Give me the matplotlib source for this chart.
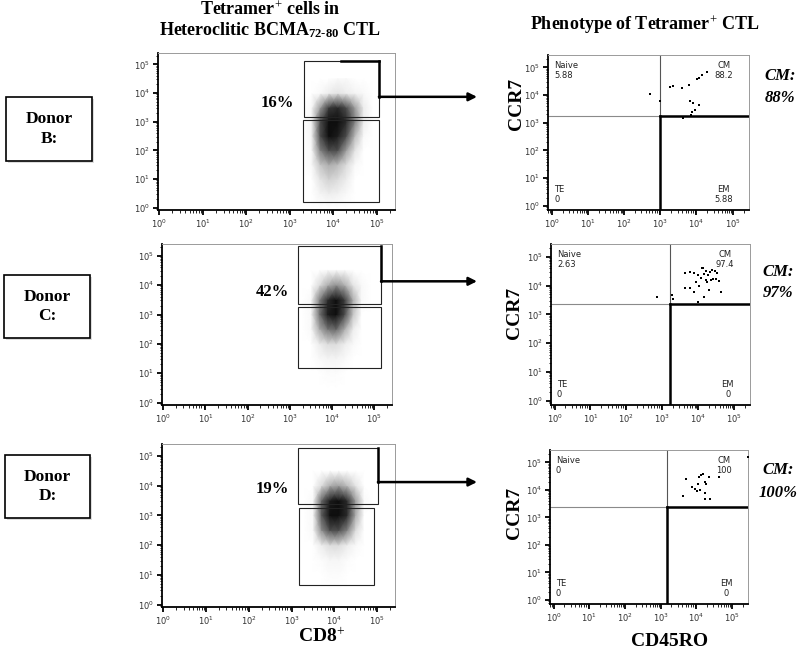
import numpy as np
import matplotlib
matplotlib.use('Agg')
import matplotlib.pyplot as plt
from matplotlib.patches import Rectangle
from matplotlib.ticker import LogLocator, NullFormatter

plt.rcParams['mathtext.fontset'] = 'custom'
plt.rcParams['mathtext.rm'] = 'Liberation Serif'
plt.rcParams['mathtext.bf'] = 'Liberation Serif:bold'
plt.rcParams['mathtext.it'] = 'Liberation Serif:italic'

# ---- data (all positions in log10 decades) ----
donors = ['B', 'C', 'D']
tet_pct = ['16%', '42%', '19%']
cm_pct = ['88%', '97%', '100%']
# (Naive, CM, TE, EM)
quad_vals = [('5.88', '88.2', '0', '5.88'),
             ('2.63', '97.4', '0', '0'),
             ('0', '100', '0', '0')]

# density of the tetramer/CD8 cloud, read by eye (rows = y nodes, cols = x nodes)
dens_x = [3.3, 3.5, 3.7, 3.9, 4.1, 4.3, 4.5, 4.7, 4.9]
dens_y = [0.0, 0.5, 1.0, 1.5, 2.0, 2.5, 3.0, 3.5, 4.0, 4.5]
dens_b = [[0, 0, 0, 0, 0, 0, 0, 0, 0],
          [0, 0, 0.10, 0.15, 0.12, 0.05, 0, 0, 0],
          [0, 0, 0.20, 0.30, 0.25, 0.15, 0, 0, 0],
          [0, 0.05, 0.35, 0.45, 0.40, 0.25, 0.05, 0, 0],
          [0, 0.05, 0.60, 0.80, 0.80, 0.50, 0.20, 0, 0],
          [0, 0.10, 0.80, 1.00, 0.95, 0.80, 0.40, 0.05, 0],
          [0, 0.10, 0.80, 1.00, 1.00, 0.90, 0.60, 0.15, 0],
          [0, 0.05, 0.50, 0.85, 0.90, 0.80, 0.50, 0.15, 0],
          [0, 0, 0.05, 0.15, 0.20, 0.15, 0.10, 0.05, 0],
          [0, 0, 0, 0, 0.05, 0.05, 0, 0, 0]]
dens_c = [[0, 0, 0, 0, 0, 0, 0, 0, 0],
          [0, 0, 0, 0, 0, 0, 0, 0, 0],
          [0, 0, 0, 0.03, 0.03, 0, 0, 0, 0],
          [0, 0, 0.05, 0.10, 0.10, 0.05, 0, 0, 0],
          [0, 0, 0.15, 0.25, 0.25, 0.15, 0.05, 0, 0],
          [0, 0.05, 0.45, 0.65, 0.70, 0.45, 0.15, 0, 0],
          [0, 0.05, 0.65, 0.95, 1.00, 0.80, 0.35, 0, 0],
          [0, 0.05, 0.60, 0.90, 1.00, 0.85, 0.45, 0.05, 0],
          [0, 0, 0.25, 0.45, 0.55, 0.45, 0.20, 0.05, 0],
          [0, 0, 0, 0.05, 0.05, 0.05, 0, 0, 0]]
dens_d = [[0, 0, 0, 0, 0, 0, 0, 0, 0],
          [0, 0, 0, 0, 0, 0, 0, 0, 0],
          [0, 0, 0, 0.03, 0.03, 0, 0, 0, 0],
          [0, 0, 0.03, 0.08, 0.08, 0.03, 0, 0, 0],
          [0, 0, 0.15, 0.25, 0.25, 0.15, 0.05, 0, 0],
          [0, 0.05, 0.55, 0.80, 0.80, 0.60, 0.25, 0, 0],
          [0, 0.05, 0.75, 1.00, 1.00, 0.90, 0.45, 0, 0],
          [0, 0.05, 0.70, 0.95, 1.00, 0.90, 0.50, 0.05, 0],
          [0, 0, 0.25, 0.45, 0.50, 0.40, 0.20, 0, 0],
          [0, 0, 0, 0, 0, 0, 0, 0, 0]]
dens_all = [dens_b, dens_c, dens_d]

# tetramer gates (x0, x1, y0, y1) and the CD8- gate below
gate_up = [(3.32, 5.05, 3.18, 5.12), (3.20, 5.16, 3.36, 5.32), (3.15, 5.02, 3.37, 5.25)]
gate_lo = [(3.31, 5.05, 0.20, 3.06), (3.20, 5.16, 1.19, 3.27), (3.17, 4.94, 0.65, 3.26)]
arrow_y = [3.87, 4.13, 4.12]

# CD45RO / CCR7 quadrant gates
quad_x = [3.00, 3.22, 3.18]
quad_y = [3.25, 3.36, 3.39]

# tetramer+ events, CD45RO (x) vs CCR7 (y)
ev_b_x = [2.71, 2.99, 3.27, 3.35, 3.60, 3.79, 3.83, 3.90, 4.08, 3.88, 3.86, 3.63, 4.07, 4.16, 4.28, 4.02, 3.95]
ev_b_y = [4.04, 3.80, 4.28, 4.32, 4.26, 4.35, 3.80, 3.70, 3.63, 3.40, 3.30, 3.16, 4.63, 4.73, 4.85, 4.60, 3.45]
ev_c_x = [2.85, 3.27, 3.30, 3.63, 3.64, 3.79, 3.88, 4.02, 3.99, 3.90, 4.00, 4.11, 4.14, 4.16,
          4.21, 4.27, 4.21, 4.25, 4.35, 4.42, 4.39, 4.46, 4.53, 4.58, 4.30, 4.63, 4.16, 4.07,
          3.95, 4.33, 4.49, 3.79]
ev_c_y = [3.62, 3.68, 3.53, 3.91, 4.45, 3.93, 3.77, 4.00, 3.43, 4.43, 4.37, 4.62, 4.60, 4.40,
          4.52, 4.37, 4.20, 4.14, 4.20, 4.25, 4.54, 4.51, 4.43, 4.16, 3.85, 3.79, 3.59, 4.28,
          4.14, 4.46, 4.23, 4.48]
ev_d_x = [3.63, 3.71, 3.89, 3.96, 4.01, 4.06, 4.08, 4.13, 4.20, 4.25, 4.27, 4.25, 4.36, 4.39,
          4.25, 4.64, 4.10, 5.45]
ev_d_y = [3.76, 4.41, 4.11, 4.02, 3.97, 4.23, 4.47, 4.53, 4.59, 4.29, 4.23, 3.88, 4.47, 3.66,
          3.66, 4.47, 4.00, 5.20]
ev_x = [ev_b_x, ev_c_x, ev_d_x]
ev_y = [ev_b_y, ev_c_y, ev_d_y]

# ---- layout, in pixels of the 800x650 picture ----
W, H = 800, 650
left_px = [(158, 53, 395, 210), (162, 244, 392, 405), (162, 444, 395, 607)]
right_px = [(548, 55, 749, 210), (551, 244, 750, 405), (550, 450, 748, 604)]
donor_px = [(6, 97, 92, 161), (4, 275, 90, 338), (5, 455, 90, 518)]
pct_px = [(277, 103), (272, 292), (272, 489)]
ccr7_px = [(517, 104), (515, 313), (514, 513)]
cm_px = [(780, 76, 98), (778, 272, 293), (778, 470, 493)]

SERIF = 'Liberation Serif'


def rect_of(p):
    x0, y0, x1, y1 = p
    return [x0 / W, 1 - y1 / H, (x1 - x0) / W, (y1 - y0) / H]


def flow_axes(p, xl, yl):
    ax = fig.add_axes(rect_of(p))
    ax.set_xscale('log')
    ax.set_yscale('log')
    ax.set_xlim(10 ** xl[0], 10 ** xl[1])
    ax.set_ylim(10 ** yl[0], 10 ** yl[1])
    for s in ['top', 'right']:
        ax.spines[s].set_color('#9a9a9a')
        ax.spines[s].set_linewidth(0.7)
    for s in ['left', 'bottom']:
        ax.spines[s].set_color('black')
        ax.spines[s].set_linewidth(1.3)
    for a in (ax.xaxis, ax.yaxis):
        a.set_major_locator(LogLocator(base=10, numticks=10))
        a.set_minor_locator(LogLocator(base=10, subs=np.arange(2, 10), numticks=20))
        a.set_minor_formatter(NullFormatter())
    ax.tick_params(which='major', length=3.5, width=1.3, labelsize=6, labelcolor='#333333', pad=2)
    ax.tick_params(which='minor', length=1.8, width=0.6)
    return ax


fig = plt.figure(figsize=(8, 6.5), dpi=100)

for i in range(3):
    # ---- left: tetramer vs CD8 ----
    ax = flow_axes(left_px[i], (-0.03, 5.42), (-0.08, 5.40))
    X, Y = np.meshgrid(10 ** np.array(dens_x), 10 ** np.array(dens_y))
    ax.pcolormesh(X, Y, np.array(dens_all[i]), shading='gouraud', cmap='Greys',
                  vmin=0, vmax=1.05, zorder=1)
    x0, x1, y0, y1 = gate_up[i]
    ax.add_patch(Rectangle((10 ** x0, 10 ** y0), 10 ** x1 - 10 ** x0, 10 ** y1 - 10 ** y0,
                           fill=False, lw=0.8, ec='#222222', zorder=3))
    ax.plot([10 ** x1, 10 ** x1], [10 ** arrow_y[i], 10 ** y1], color='black', lw=1.8, zorder=4)
    if i == 0:
        ax.plot([10 ** 4.18, 10 ** x1], [10 ** y1, 10 ** y1], color='black', lw=1.8, zorder=4)
    lx0, lx1, ly0, ly1 = gate_lo[i]
    ax.add_patch(Rectangle((10 ** lx0, 10 ** ly0), 10 ** lx1 - 10 ** lx0, 10 ** ly1 - 10 ** ly0,
                           fill=False, lw=0.8, ec='#222222', zorder=3))
    ax.annotate('', xy=(477, 10 ** arrow_y[i]), xycoords=('figure pixels', 'data'),
                xytext=(10 ** x1, 10 ** arrow_y[i]), textcoords='data',
                arrowprops=dict(arrowstyle='-|>', lw=1.8, color='black',
                                mutation_scale=12, shrinkA=0, shrinkB=0),
                annotation_clip=False, zorder=5)

    # ---- right: CD45RO vs CCR7 ----
    axr = flow_axes(right_px[i], (-0.10, 5.45), (-0.15, 5.45))
    qx, qy = 10 ** quad_x[i], 10 ** quad_y[i]
    xr = axr.get_xlim()
    yr = axr.get_ylim()
    axr.plot(xr, [qy, qy], color='#8a8a8a', lw=0.8, zorder=2)
    axr.plot([qx, qx], [qy, yr[1]], color='#555555', lw=0.8, zorder=2)
    axr.plot([qx, qx], [yr[0], qy], color='black', lw=1.8, zorder=3)
    axr.plot([qx, xr[1]], [qy, qy], color='black', lw=1.8, zorder=3)
    axr.scatter(10 ** np.array(ev_x[i]), 10 ** np.array(ev_y[i]), s=3, marker='s',
                c='black', lw=0, zorder=4, clip_on=False)
    nv, cm, te, em = quad_vals[i]
    qfont = dict(fontsize=6, family='DejaVu Sans', color='#222222', transform=axr.transAxes,
                 linespacing=1.1)
    axr.text(0.03, 0.96, 'Naive\n' + nv, ha='left', va='top', **qfont)
    axr.text(0.92, 0.96, 'CM\n' + cm, ha='right', va='top', multialignment='center', **qfont)
    axr.text(0.03, 0.04, 'TE\n' + te, ha='left', va='bottom', **qfont)
    axr.text(0.92, 0.04, 'EM\n' + em, ha='right', va='bottom', multialignment='center', **qfont)

    # ---- annotations ----
    px, py = pct_px[i]
    fig.text(px / W, 1 - py / H, tet_pct[i], ha='center', va='center',
             family=SERIF, weight='bold', fontsize=12)
    cx, cy = ccr7_px[i]
    fig.text(cx / W, 1 - cy / H, 'CCR7', ha='center', va='center', rotation=90,
             family=SERIF, weight='bold', fontsize=14)
    mx, my1, my2 = cm_px[i]
    fig.text(mx / W, 1 - my1 / H, 'CM:', ha='center', va='center',
             family=SERIF, weight='bold', style='italic', fontsize=12)
    fig.text(mx / W, 1 - my2 / H, cm_pct[i], ha='center', va='center',
             family=SERIF, weight='bold', style='italic', fontsize=12)

    # donor label boxes
    bx0, by0, bx1, by1 = donor_px[i]
    fig.patches.append(Rectangle(((bx0 + 2) / W, 1 - (by1 + 2) / H), (bx1 - bx0) / W,
                                 (by1 - by0) / H, transform=fig.transFigure,
                                 fc='#dddddd', ec='none', zorder=0))
    fig.patches.append(Rectangle((bx0 / W, 1 - by1 / H), (bx1 - bx0) / W, (by1 - by0) / H,
                                 transform=fig.transFigure, fc='white', ec='black',
                                 lw=1.2, zorder=1))
    fig.text((bx0 + bx1) / 2 / W, 1 - (by0 + by1) / 2 / H, 'Donor\n' + donors[i] + ':',
             ha='center', va='center', family=SERIF, weight='bold', fontsize=12.5,
             linespacing=1.3, zorder=2)

# headers and axis titles
fig.text(270 / W, 1 - 10 / H, r'Tetramer$^{+}$ cells in', ha='center', va='center',
         family=SERIF, weight='bold', fontsize=13)
fig.text(270 / W, 1 - 30 / H, r'Heteroclitic BCMA$_{\mathbf{72}\text{-}\mathbf{80}}$ CTL',
         ha='center', va='center', family=SERIF, weight='bold', fontsize=13)
fig.text(645 / W, 1 - 25 / H, r'Phenotype of Tetramer$^{+}$ CTL', ha='center', va='center',
         family=SERIF, weight='bold', fontsize=13)
fig.text(322 / W, 1 - 637 / H, r'CD8$^{+}$', ha='center', va='center',
         family=SERIF, weight='bold', fontsize=14)
fig.text(670 / W, 1 - 641 / H, 'CD45RO', ha='center', va='center',
         family=SERIF, weight='bold', fontsize=14)

fig.savefig('out.png', dpi=100)
